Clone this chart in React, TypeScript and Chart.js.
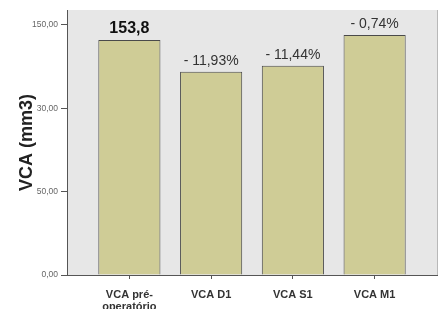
import React, { useEffect, useRef } from "react";
import { Chart, registerables } from "chart.js";

Chart.register(...registerables);

const categories: (string | string[])[] = [["VCA pré-", "operatório"], "VCA D1", "VCA S1", "VCA M1"];
const values = [141, 122, 125.5, 144];
const barLabels = ["153,8", "- 11,93%", "- 11,44%", "- 0,74%"];
const yTickValues = [0, 50, 100, 150];
const yTickLabels = ["0,00", "50,00", "30,00", "150,00"];

export default function App() {
  const ref = useRef<HTMLCanvasElement>(null);
  useEffect(() => {
    document.body.style.margin = "0";
    const ctx = ref.current!;
    const bgPlugin = {
      id: "bg",
      beforeDraw(chart: any) {
        const { ctx, chartArea } = chart;
        ctx.save();
        ctx.fillStyle = "#e7e7e7";
        ctx.fillRect(chartArea.left, chartArea.top, chartArea.right - chartArea.left, chartArea.bottom - chartArea.top);
        ctx.strokeStyle = "#b8b8b8";
        ctx.lineWidth = 1;
        ctx.beginPath();
        ctx.moveTo(chartArea.right + 0.5, chartArea.top);
        ctx.lineTo(chartArea.right + 0.5, chartArea.bottom);
        ctx.stroke();
        ctx.restore();
      },
    };
    const labelPlugin = {
      id: "barLabels",
      afterDatasetsDraw(chart: any) {
        const { ctx } = chart;
        const meta = chart.getDatasetMeta(0);
        ctx.save();
        ctx.textAlign = "center";
        ctx.textBaseline = "middle";
        meta.data.forEach((el: any, i: number) => {
          if (i === 0) {
            ctx.font = "bold 16px Arial, 'Liberation Sans', sans-serif";
            ctx.fillStyle = "#111";
          } else {
            ctx.font = "14px Arial, 'Liberation Sans', sans-serif";
            ctx.fillStyle = "#333";
          }
          ctx.fillText(barLabels[i], el.x, el.y - 11);
        });
        ctx.restore();
      },
    };
    const chart = new Chart(ctx, {
      type: "bar",
      data: {
        datasets: [
          {
            data: values.map((v, i) => ({ x: i, y: v })),
            backgroundColor: "#cfcc96",
            borderColor: "#4a4a4a",
            borderWidth: 1,
            categoryPercentage: 0.76,
            barPercentage: 1,
          },
        ],
      },
      options: {
        animation: false,
        responsive: false,
        maintainAspectRatio: false,
        layout: { padding: { top: 10, right: 4, left: 0, bottom: 0 } },
        plugins: { legend: { display: false }, tooltip: { enabled: false } },
        scales: {
          x: {
            type: "linear",
            offset: false,
            min: -0.763,
            max: 3.763,
            afterBuildTicks: (axis: any) => {
              axis.ticks = categories.map((_, i) => ({ value: i }));
            },
            afterFit: (axis: any) => {
              axis.height = 34;
            },
            grid: { offset: false, drawOnChartArea: false, drawTicks: true, tickLength: 4, tickColor: "#555" },
            border: { color: "#555", width: 1 },
            ticks: {
              autoSkip: false,
              maxRotation: 0,
              padding: 10,
              color: "#333",
              font: { family: "Arial, 'Liberation Sans', sans-serif", size: 11, weight: "bold", lineHeight: 1.1 },
              callback: (v: any) => categories[v as number] ?? "",
            },
          },
          y: {
            min: 0,
            max: 159,
            afterBuildTicks: (axis: any) => {
              axis.ticks = yTickValues.map((v) => ({ value: v }));
            },
            afterFit: (axis: any) => {
              axis.width = 67;
            },
            grid: { drawOnChartArea: false, drawTicks: true, tickLength: 6, tickColor: "#555" },
            border: { color: "#555", width: 1 },
            ticks: {
              padding: 3,
              color: "#666",
              font: { family: "Arial, 'Liberation Sans', sans-serif", size: 8.5 },
              callback: (v: any) => {
                const idx = yTickValues.indexOf(v as number);
                return idx >= 0 ? yTickLabels[idx] : "";
              },
            },
            title: {
              display: true,
              text: "VCA (mm3)",
              color: "#222",
              padding: { top: 16, bottom: 0 },
              font: { family: "Arial, 'Liberation Sans', sans-serif", size: 18, weight: "bold" },
            },
          },
        },
      },
      plugins: [bgPlugin, labelPlugin],
    } as any);
    return () => chart.destroy();
  }, []);
  return (
    <div style={{ width: 441, height: 309, background: "#fff" }}>
      <canvas ref={ref} width={441} height={309} style={{ display: "block" }} />
    </div>
  );
}
